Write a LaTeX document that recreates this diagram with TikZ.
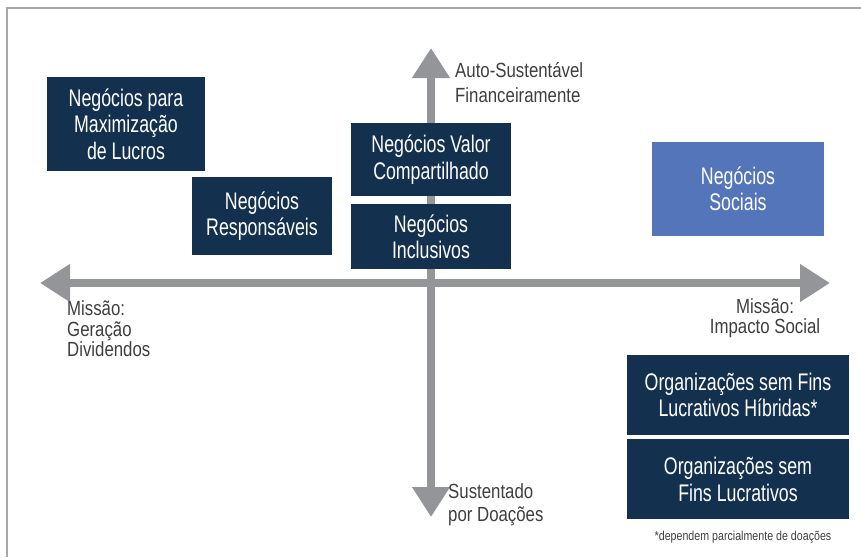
\documentclass[tikz,border=0pt]{standalone}
\usepackage{fontspec}
\setmainfont{Liberation Sans}[FakeStretch=0.74]
\newfontfamily\labelfont{Liberation Sans}[FakeStretch=0.82]
\usetikzlibrary{arrows.meta, positioning}
\definecolor{navy}{HTML}{13314F}
\definecolor{socialblue}{HTML}{5475B9}
\definecolor{axisgray}{HTML}{939598}
\definecolor{framegray}{HTML}{A7A7A7}
\definecolor{labelgray}{HTML}{3E3E3E}
\tikzstyle{box} = [
  rectangle,
  align=center,
  text=white,
  fill=navy,
  inner sep=0pt,
  font=\fontsize{24}{26.5}\selectfont
]
\tikzstyle{socialbox} = [box, fill=socialblue]
\tikzstyle{axislabel} = [
  align=left,
  text=labelgray,
  inner sep=0pt,
  font=\labelfont\fontsize{20.5}{22}\selectfont
]
\tikzstyle{axis} = [
  draw=axisgray,
  line width=8pt,
  {Triangle[width=36pt,length=30pt]}-{Triangle[width=36pt,length=30pt]}
]
\tikzstyle{frame} = [draw=framegray, line width=2pt]

\begin{document}
\begin{tikzpicture}[x=1pt, y=-1pt]
    \useasboundingbox (0,0) rectangle (861,557);
    \draw [frame] (6.5,557) -- (6.5,7.5) -- (861,7.5);

    % axes
    \coordinate (west) at (40,283);
    \coordinate (east) at (830,283);
    \coordinate (north) at (431,48);
    \coordinate (south) at (431,517);
    \draw [axis] (west) -- (east);
    \draw [axis] (south) -- (north);

    % quadrant boxes
    \node (lucros) [box, minimum width=158pt, minimum height=94pt] at (126,124)
      {Negócios para\\Maximização\\de Lucros};
    \node (responsaveis) [box, minimum width=140pt, minimum height=78pt] at (262,216)
      {Negócios\\Responsáveis};
    \node (valor) [box, minimum width=160pt, minimum height=73pt] at (431,159.5)
      {Negócios Valor\\Compartilhado};
    \node (inclusivos) [box, minimum width=160pt, minimum height=65pt, below=8pt of valor]
      {Negócios\\Inclusivos};
    \node (sociais) [socialbox, minimum width=172pt, minimum height=94pt] at (738,189)
      {Negócios\\Sociais};
    \node (hibridas) [box, minimum width=222pt, minimum height=80pt] at (738,395)
      {Organizações sem Fins\\Lucrativos Híbridas*};
    \node (semfins) [box, minimum width=222pt, minimum height=80pt, below=4pt of hibridas]
      {Organizações sem\\Fins Lucrativos};

    % axis labels
    \node (auto) [axislabel, anchor=west, font=\labelfont\fontsize{20.5}{25}\selectfont] at (455,83)
      {Auto-Sustentável\\Financeiramente};
    \node (doacoes) [axislabel, anchor=west, font=\labelfont\fontsize{20.5}{23}\selectfont] at (448,505)
      {Sustentado\\por Doações};
    \node (dividendos) [axislabel, anchor=west, font=\labelfont\fontsize{20.5}{20.5}\selectfont] at (67,329)
      {Missão:\\Geração\\Dividendos};
    \node (impacto) [axislabel, align=center, font=\labelfont\fontsize{20.5}{20.5}\selectfont] at (765,318)
      {Missão:\\Impacto Social};
    \node (nota) [text=labelgray, inner sep=0pt, font=\labelfont\fontsize{13}{14}\selectfont] at (743,537)
      {*dependem parcialmente de doações};
  \end{tikzpicture}
\end{document}
